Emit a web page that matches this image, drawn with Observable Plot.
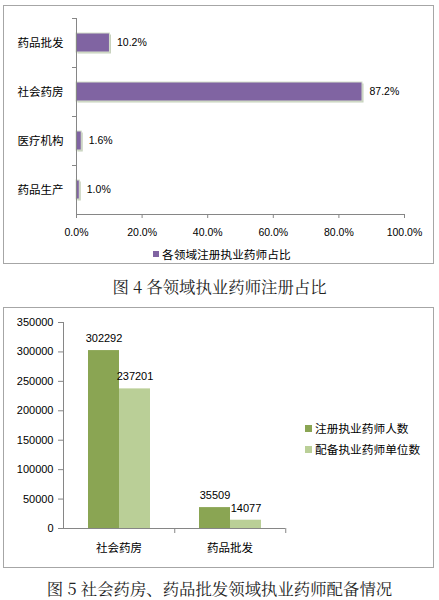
<!DOCTYPE html>
<html><head><meta charset="utf-8">
<script src="https://cdn.jsdelivr.net/npm/d3@7"></script>
<script src="https://cdn.jsdelivr.net/npm/@observablehq/plot@0.6"></script>
<style>
body{margin:0;background:#fff;}
#wrap{position:relative;width:439px;height:600px;overflow:hidden;}
.box{position:absolute;border:1px solid #a6a6a6;box-sizing:border-box;}
.abs{position:absolute;}
.cap{position:absolute;left:0;width:439px;text-align:center;font-family:"Noto Serif CJK SC","Noto Sans CJK SC",serif;font-size:16.4px;line-height:20px;color:#222;}
.leg{position:absolute;display:flex;align-items:center;font-family:"Noto Sans CJK SC",sans-serif;font-size:11.7px;line-height:14px;color:#000;white-space:nowrap;}
.sw{display:inline-block;margin-right:3px;}
</style>
</head><body>
<div id="wrap">
  <div class="box" style="left:3px;top:5px;width:431px;height:259px;"></div>
  <div class="box" style="left:3px;top:307px;width:431px;height:261px;"></div>
  <div id="c1" class="abs" style="left:3px;top:5px;"></div>
  <div id="c2" class="abs" style="left:3px;top:307px;"></div>
  <div id="leg1"></div>
  <div id="leg2"></div>
  <div class="cap" style="top:276px;">图 4 各领域执业药师注册占比</div>
  <div class="cap" style="top:578px;">图 5 社会药房、药品批发领域执业药师配备情况</div>
</div>
<script>
// ---- Chart 1 data ----
const shareCats = ["药品批发", "社会药房", "医疗机构", "药品生产"];
const shareVals = [10.2, 87.2, 1.6, 1.0];
const shareTicks = [0, 20, 40, 60, 80, 100];
const shareSeries = "各领域注册执业药师占比";
const shareColor = "#8064A2";

// ---- Chart 2 data ----
const groupCats = ["社会药房", "药品批发"];
const seriesNames = ["注册执业药师人数", "配备执业药师单位数"];
const registered = [302292, 35509];
const units = [237201, 14077];
const countTicks = [0, 50000, 100000, 150000, 200000, 250000, 300000, 350000];
const seriesColors = ["#8AA553", "#BACF97"];

const CJK = "'Noto Sans CJK SC', sans-serif";
const LAT = "'Liberation Sans', Arial, sans-serif";
const AX = "#868686";

// ---- Chart 1 ----
const rows1 = shareCats.map((c, i) => ({cat: c, v: shareVals[i]}));
const h1 = 240, mt1 = 13, mb1 = 31;
const step1 = (h1 - mt1 - mb1) / shareCats.length;
const p1 = Plot.plot({
  width: 431, height: h1, marginLeft: 73, marginRight: 30, marginTop: mt1, marginBottom: mb1,
  style: {fontFamily: LAT, fontSize: "10.5px", color: "#000", background: "transparent"},
  x: {domain: [0, 100], label: null},
  y: {domain: shareCats, paddingInner: 0.61, paddingOuter: 0.305, label: null},
  marks: [
    Plot.barX(rows1, {x: "v", y: "cat", fill: "#c6d1bc", dx: 1.5, dy: 1.5}),
    Plot.barX(rows1, {x: "v", y: "cat", fill: shareColor, stroke: "#d5dfcb", strokeWidth: 1}),
    Plot.frame({anchor: "left", stroke: AX}),
    Plot.frame({anchor: "bottom", stroke: AX}),
    Plot.axisX({ticks: shareTicks, tickFormat: d => d.toFixed(1) + "%", tickSize: 4, tickPadding: 10, stroke: AX, fill: "#000", fontSize: 10.5, label: null}),
    Plot.axisY({tickSize: 0, tickPadding: 13, fontFamily: CJK, fontSize: 11.5, fill: "#000", label: null}),
    Plot.axisY({tickSize: 4, tickFormat: () => "", dy: -step1 / 2, stroke: AX, label: null}),
    Plot.text(rows1, {x: "v", y: "cat", text: d => d.v.toFixed(1) + "%", textAnchor: "start", dx: 7, fontSize: 10.5, fill: "#000"})
  ]
});
document.getElementById("c1").appendChild(p1);

// ---- Chart 2 ----
const rows2 = groupCats.flatMap((c, i) => [
  {cat: c, s: seriesNames[0], v: registered[i]},
  {cat: c, s: seriesNames[1], v: units[i]}
]);
const w2 = 300, ml2 = 59, mr2 = 18;
const fstep = (w2 - ml2 - mr2) / groupCats.length;
const p2 = Plot.plot({
  width: w2, height: 255, marginLeft: ml2, marginRight: mr2, marginTop: 15, marginBottom: 34,
  style: {fontFamily: LAT, fontSize: "11px", color: "#000", background: "transparent"},
  fx: {domain: groupCats, padding: 0, label: null},
  x: {domain: seriesNames, paddingInner: 0, paddingOuter: 0.75, axis: null, label: null},
  y: {domain: [0, 350000], label: null},
  color: {domain: seriesNames, range: seriesColors},
  marks: [
    Plot.barY(rows2, {fx: "cat", x: "s", y: "v", fill: "s"}),
    Plot.text(rows2, {fx: "cat", x: "s", y: "v", text: d => String(d.v), dy: -12, fontSize: 11, fill: "#000"}),
    Plot.ruleY([0], {stroke: AX}),
    Plot.frame({anchor: "left", facetAnchor: "left", stroke: AX}),
    Plot.axisY({ticks: countTicks, tickFormat: d => String(d), tickSize: 5, tickPadding: 5, stroke: AX, fill: "#000", fontSize: 11, label: null}),
    Plot.axisFx({anchor: "bottom", tickSize: 0, tickPadding: 15, fontFamily: CJK, fontSize: 11.5, fill: "#000", label: null}),
    Plot.axisFx({anchor: "bottom", tickSize: 5, tickFormat: () => "", dx: fstep / 2, stroke: AX, label: null})
  ]
});
document.getElementById("c2").appendChild(p2);

// ---- Legends (HTML) ----
const leg1 = document.getElementById("leg1");
leg1.className = "leg";
leg1.style.left = "153px"; leg1.style.top = "247px";
leg1.innerHTML = `<span class="sw" style="width:6px;height:6px;background:${shareColor}"></span><span>${shareSeries}</span>`;

const leg2 = document.getElementById("leg2");
seriesNames.forEach((s, i) => {
  const d = document.createElement("div");
  d.className = "leg";
  d.style.left = "305px"; d.style.top = (421 + i * 21) + "px";
  d.innerHTML = `<span class="sw" style="width:7px;height:7px;background:${seriesColors[i]}"></span><span>${s}</span>`;
  leg2.appendChild(d);
});
</script>
</body></html>
